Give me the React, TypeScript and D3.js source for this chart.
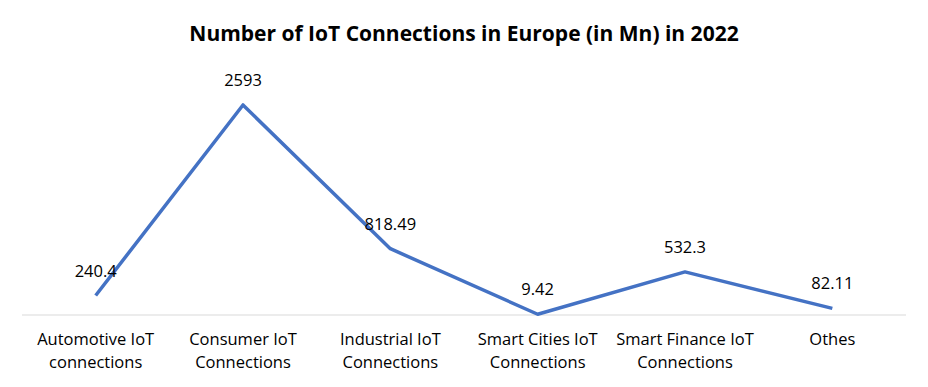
import { useEffect, useRef } from "react";
import * as d3 from "d3";

const categories = [
  ["Automotive IoT", "connections"],
  ["Consumer IoT", "Connections"],
  ["Industrial IoT", "Connections"],
  ["Smart Cities IoT", "Connections"],
  ["Smart Finance IoT", "Connections"],
  ["Othes"],
];
const values = [240.4, 2593, 818.49, 9.42, 532.3, 82.11];
const valueLabels = ["240.4", "2593", "818.49", "9.42", "532.3", "82.11"];
const title = "Number of IoT Connections in Europe (in Mn) in 2022";

const W = 928;
const H = 387;
const font = "'Open Sans', 'Noto Sans', sans-serif";

const App = () => {
  const ref = useRef<SVGSVGElement>(null);

  useEffect(() => {
    const svg = d3.select(ref.current);
    svg.selectAll("*").remove();

    const margin = { left: 22, right: 22, top: 72, bottom: 72 };
    const x = d3
      .scaleBand<number>()
      .domain(d3.range(values.length))
      .range([margin.left, W - margin.right]);
    const y = d3
      .scaleLinear()
      .domain([0, 3000])
      .range([H - margin.bottom, margin.top]);

    svg.append("rect").attr("width", W).attr("height", H).attr("fill", "#fff");

    svg
      .append("text")
      .attr("x", W / 2)
      .attr("y", 41)
      .attr("text-anchor", "middle")
      .style("font-family", font)
      .style("font-weight", "bold")
      .style("font-size", "21px")
      .attr("fill", "#000")
      .text(title);

    // baseline
    svg
      .append("line")
      .attr("x1", margin.left)
      .attr("x2", W - margin.right)
      .attr("y1", y(0))
      .attr("y2", y(0))
      .attr("stroke", "#d9d9d9")
      .attr("stroke-width", 1);

    // category labels
    const cx = (i: number) => x(i)! + x.bandwidth() / 2;
    const cat = svg
      .append("g")
      .selectAll("text")
      .data(categories)
      .join("text")
      .attr("x", (_, i) => cx(i))
      .attr("y", y(0) + 30)
      .attr("text-anchor", "middle")
      .style("font-family", font)
      .style("font-size", "16.5px")
      .attr("fill", "#000");
    cat
      .selectAll("tspan")
      .data(d => d)
      .join("tspan")
      .attr("x", function () {
        return (this.parentNode as SVGTextElement).getAttribute("x");
      })
      .attr("dy", (_, j) => (j === 0 ? 0 : 23))
      .text(d => d);

    const line = d3
      .line<number>()
      .x((_, i) => cx(i))
      .y(d => y(d));

    svg
      .append("path")
      .datum(values)
      .attr("fill", "none")
      .attr("stroke", "#4472C4")
      .attr("stroke-width", 3.5)
      .attr("stroke-linejoin", "round")
      .attr("d", line);

    svg
      .append("g")
      .selectAll("text")
      .data(values)
      .join("text")
      .attr("x", (_, i) => cx(i))
      .attr("y", d => y(d) - 19)
      .attr("text-anchor", "middle")
      .style("font-family", font)
      .style("font-size", "16.5px")
      .attr("fill", "#000")
      .text((_, i) => valueLabels[i]);
  }, []);

  return (
    <svg
      ref={ref}
      width={W}
      height={H}
      style={{ position: "absolute", left: 0, top: 0 }}
    />
  );
};

export default App;
